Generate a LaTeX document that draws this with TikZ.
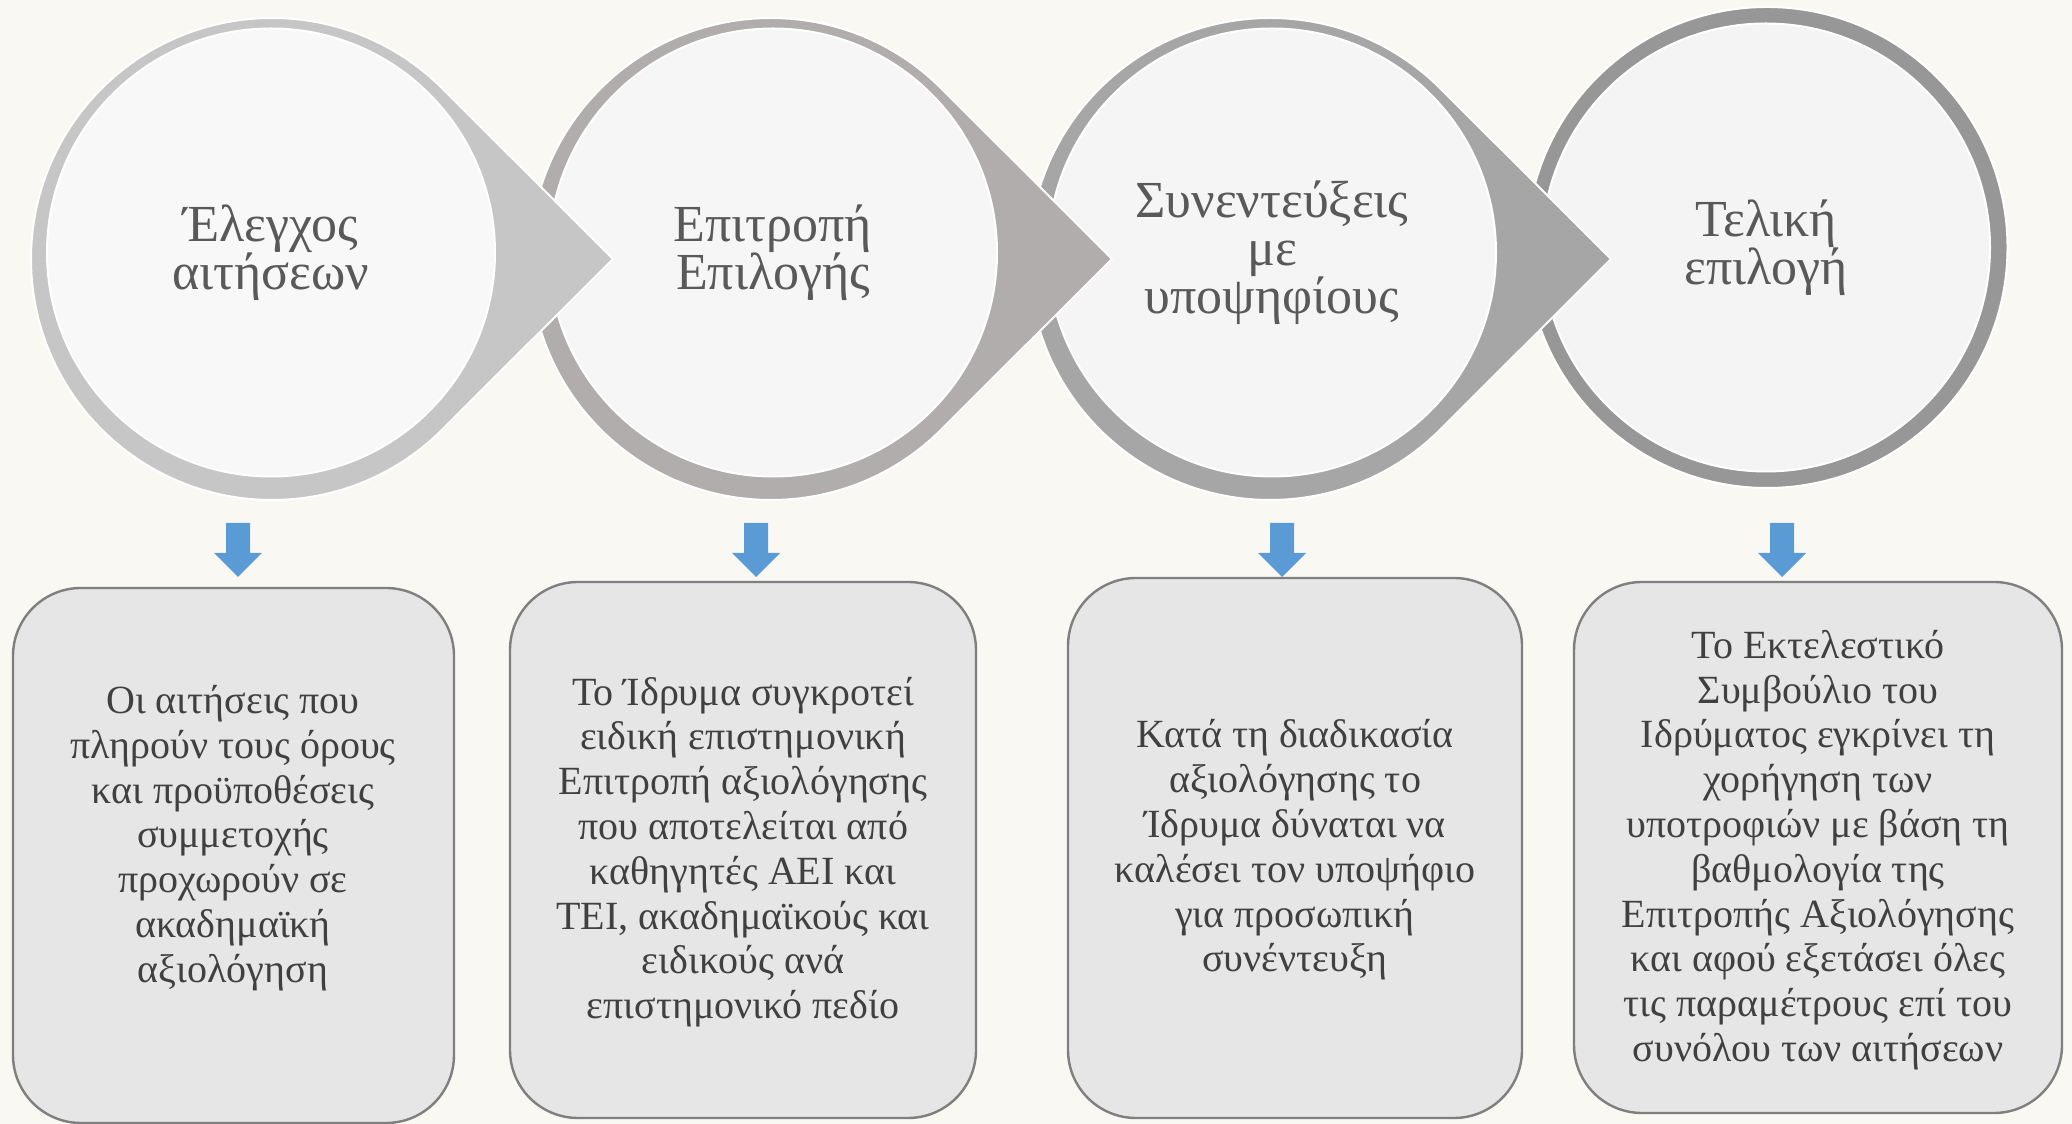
\documentclass[tikz,border=0pt]{standalone}
\usepackage{fontspec}
\setmainfont{Liberation Serif}
\usepackage{xcolor}
\usepackage{tikz}
\definecolor{pagebg}{HTML}{FAF8F3}
\definecolor{ringA}{HTML}{C6C6C6}
\definecolor{ringB}{HTML}{B0ADAC}
\definecolor{ringC}{HTML}{A6A6A6}
\definecolor{ringD}{HTML}{979797}
\definecolor{discA}{HTML}{F8F8F8}
\definecolor{discB}{HTML}{F6F6F6}
\definecolor{discC}{HTML}{F5F5F5}
\definecolor{discD}{HTML}{F4F4F4}
\definecolor{disccol}{HTML}{595959}
\definecolor{boxfill}{HTML}{E6E6E6}
\definecolor{boxline}{HTML}{7F7F7F}
\definecolor{notecol}{HTML}{404040}
\definecolor{arrowblue}{HTML}{5B9BD5}

\begin{document}
\begin{tikzpicture}[x=0.5pt, y=0.5pt,
    disc/.style={circle, minimum size=224pt, inner sep=0pt, draw=white, line width=1pt,
                 align=center, text=disccol, font=\fontsize{26}{24}\selectfont},
    notebox/.style={rectangle, rounded corners=34pt, fill=boxfill, draw=boxline, line width=1.2pt},
    notetext/.style={align=center, text=notecol, font=\fontsize{20}{22.4}\selectfont}]

    % ── Page ──────────────────────────────────────────────────────────────────
    \fill[pagebg] (0,0) rectangle (2072,1124);
    \useasboundingbox (0,0) rectangle (2072,1124);

    % ── Step 4: final circle (no tip) ─────────────────────────────────────────
    \filldraw[fill=ringD, draw=white, line width=1pt] (1767,876.5) circle (240.5);
    \node[disc, fill=discD] (teliki) at (1766,876.5) {Τελική\\επιλογή};

    % ── Step 3 ────────────────────────────────────────────────────────────────
    \filldraw[fill=ringC, draw=white, line width=1pt, shift={(1270,865)}]
        (45:241) -- (341,0) -- (-45:241) arc[start angle=-45, end angle=-315, radius=241] -- cycle;
    \node[disc, fill=discC] (synentefxeis) at (1272,871.5) {Συνεντεύξεις\\με\\υποψηφίους};

    % ── Step 2 ────────────────────────────────────────────────────────────────
    \filldraw[fill=ringB, draw=white, line width=1pt, shift={(771,865)}]
        (45:241) -- (341,0) -- (-45:241) arc[start angle=-45, end angle=-315, radius=241] -- cycle;
    \node[disc, fill=discB] (epitropi) at (773,871.5) {Επιτροπή\\Επιλογής};

    % ── Step 1 ────────────────────────────────────────────────────────────────
    \filldraw[fill=ringA, draw=white, line width=1pt, shift={(272,865)}]
        (45:241) -- (341,0) -- (-45:241) arc[start angle=-45, end angle=-315, radius=241] -- cycle;
    \node[disc, fill=discA] (elegxos) at (271,871.5) {Έλεγχος\\αιτήσεων};

    % ── Blue down arrows ──────────────────────────────────────────────────────
    \foreach \ax in {238,756,1282,1782}
        \fill[arrowblue] (\ax-12,601) -- (\ax+12,601) -- (\ax+12,571) -- (\ax+24,571)
            -- (\ax,547) -- (\ax-24,571) -- (\ax-12,571) -- cycle;

    % ── Description boxes ─────────────────────────────────────────────────────
    \node[notebox, minimum width=220.5pt, minimum height=267.5pt] (box1) at (233.5,268.5) {};
    \node[notebox, minimum width=233pt, minimum height=268pt] (box2) at (743,274) {};
    \node[notebox, minimum width=227pt, minimum height=270pt] (box3) at (1295,276) {};
    \node[notebox, minimum width=244pt, minimum height=265.5pt] (box4) at (1818,276.5) {};

    \node[notetext] (note1) at (233,286)
        {Οι αιτήσεις που\\πληρούν τους όρους\\και προϋποθέσεις\\συμμετοχής\\προχωρούν σε\\ακαδημαϊκή\\αξιολόγηση};
    \node[notetext] (note2) at (743,272)
        {Το Ίδρυμα συγκροτεί\\ειδική επιστημονική\\Επιτροπή αξιολόγησης\\που αποτελείται από\\καθηγητές ΑΕΙ και\\ΤΕΙ, ακαδημαϊκούς και\\ειδικούς ανά\\επιστημονικό πεδίο};
    \node[notetext] (note3) at (1295,274)
        {Κατά τη διαδικασία\\αξιολόγησης το\\Ίδρυμα δύναται να\\καλέσει τον υποψήφιο\\για προσωπική\\συνέντευξη};
    \node[notetext] (note4) at (1818,274)
        {Το Εκτελεστικό\\Συμβούλιο του\\Ιδρύματος εγκρίνει τη\\χορήγηση των\\υποτροφιών με βάση τη\\βαθμολογία της\\Επιτροπής Αξιολόγησης\\και αφού εξετάσει όλες\\τις παραμέτρους επί του\\συνόλου των αιτήσεων};

\end{tikzpicture}
\end{document}
